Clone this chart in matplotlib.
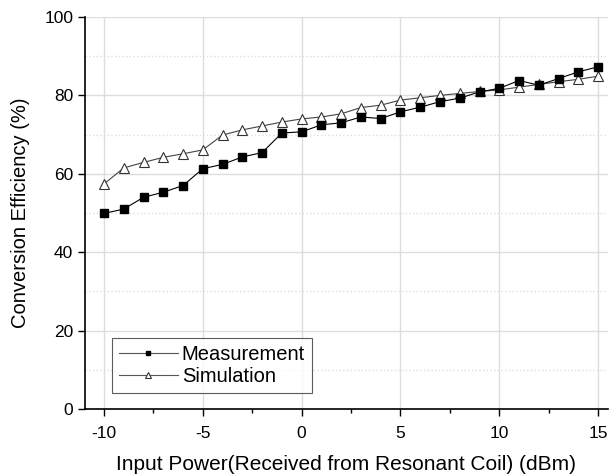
import matplotlib
matplotlib.use("Agg")
import matplotlib.pyplot as plt
from matplotlib.ticker import MultipleLocator

plt.rcParams['font.family'] = ['Liberation Sans', 'DejaVu Sans']

power_dbm = list(range(-10, 16))
measurement = [49.9, 51.0, 54.0, 55.3, 57.0, 61.3, 62.4, 64.3, 65.4, 70.4, 70.7,
               72.5, 73.0, 74.5, 74.1, 75.8, 77.0, 78.4, 79.3, 80.9, 81.8,
               83.8, 82.6, 84.3, 86.0, 87.3]
simulation = [57.4, 61.5, 62.9, 64.2, 65.1, 66.1, 69.9, 71.2, 72.2, 73.2, 74.0,
              74.5, 75.3, 76.9, 77.5, 78.8, 79.4, 80.0, 80.5, 81.0, 81.4,
              82.1, 82.8, 83.5, 84.1, 84.9]
x_ticks = [-10, -5, 0, 5, 10, 15]
x_tick_labels = ['-10', '-5', '0', '5', '10', '15']
y_ticks = [0, 20, 40, 60, 80, 100]
y_tick_labels = ['0', '20', '40', '60', '80', '100']

fig = plt.figure(figsize=(6.11, 4.75), dpi=100)
ax = fig.add_axes([85/611, 66/475, (608-85)/611, (409-17)/475])

ax.plot(power_dbm, measurement, color='black', lw=0.8, marker='s', ms=5.5,
        mfc='black', mec='black', label='Measurement', zorder=4)
ax.plot(power_dbm, simulation, color='#444444', lw=0.8, marker='^', ms=7,
        mfc='white', mec='#333333', mew=0.8, label='Simulation', zorder=3)

ax.set_xlim(-10.96, 15.5)
ax.set_ylim(0, 100)
ax.set_xticks(x_ticks)
ax.set_xticklabels(x_tick_labels)
ax.set_yticks(y_ticks)
ax.set_yticklabels(y_tick_labels)
ax.xaxis.set_minor_locator(MultipleLocator(2.5))
ax.yaxis.set_minor_locator(MultipleLocator(10))
ax.tick_params(axis='both', which='major', direction='out', length=5, width=1,
               labelsize=12.5)
ax.tick_params(axis='x', which='major', pad=7)
ax.tick_params(axis='x', which='minor', direction='out', length=3, width=1)
ax.tick_params(axis='y', which='minor', length=0)

ax.grid(True, which='major', color='#dddddd', lw=1, zorder=0)
ax.grid(True, which='minor', axis='y', color='#dddddd', lw=1, ls=':', zorder=0)
ax.set_axisbelow(True)

for s in ['top', 'right']:
    ax.spines[s].set_visible(False)
for s in ['left', 'bottom']:
    ax.spines[s].set_linewidth(1.2)

ax.set_xlabel('Input Power(Received from Resonant Coil) (dBm)', fontsize=15, labelpad=10)
ax.set_ylabel('Conversion Efficiency (%)', fontsize=14.5, labelpad=10)

leg = ax.legend(loc='lower left', bbox_to_anchor=(0.052, 0.041), fontsize=14.5,
                frameon=True, fancybox=False, edgecolor='#333333',
                handlelength=2.9, borderpad=0.35, labelspacing=0.15,
                handletextpad=0.2, markerscale=0.6, borderaxespad=0)
leg.get_frame().set_linewidth(0.8)
for h in leg.get_lines():
    h.set_color('#555555')

fig.savefig('out.png', dpi=100)
